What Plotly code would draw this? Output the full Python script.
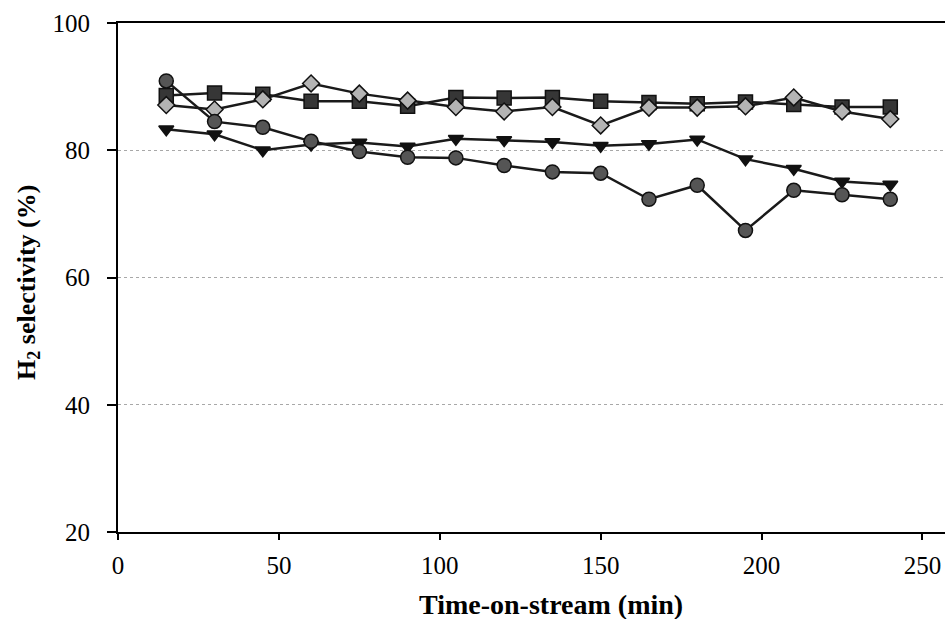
import plotly.graph_objects as go

# Time-on-stream sampling points (min)
time_min = [15, 30, 45, 60, 75, 90, 105, 120, 135, 150, 165, 180, 195, 210, 225, 240]

# H2 selectivity (%) for each catalyst run
sel_circle = [90.9, 84.5, 83.6, 81.4, 79.8, 78.9, 78.8, 77.6, 76.6, 76.4, 72.3, 74.5, 67.4, 73.7, 73.0, 72.3]
sel_square = [88.6, 89.0, 88.8, 87.7, 87.7, 86.9, 88.3, 88.2, 88.3, 87.7, 87.5, 87.3, 87.6, 87.2, 86.8, 86.8]
sel_diamond = [87.1, 86.4, 88.0, 90.5, 88.9, 87.8, 86.8, 86.1, 86.8, 83.9, 86.7, 86.7, 86.9, 88.3, 86.1, 84.9]
sel_triangle = [83.3, 82.5, 80.0, 80.9, 81.2, 80.6, 81.8, 81.6, 81.3, 80.7, 81.0, 81.7, 78.6, 77.1, 75.1, 74.6]

x_ticks = [0, 50, 100, 150, 200, 250]
y_ticks = [20, 40, 60, 80, 100]

FONT = "Liberation Serif"
LINE = "#1a1a1a"

series = [
    (sel_square, "square", "#363636", 14),
    (sel_diamond, "diamond", "#b4b4b4", 13),
    (sel_triangle, "triangle-down", "#111111", 13),
    (sel_circle, "circle", "#555555", 14),
]

fig = go.Figure()
for values, symbol, fill, size in series:
    fig.add_trace(go.Scatter(
        x=time_min, y=values, mode="lines+markers",
        line=dict(color=LINE, width=2.5),
        marker=dict(symbol=symbol, size=size, color=fill,
                    line=dict(color="#111111", width=1.5)),
        showlegend=False,
    ))

fig.update_layout(
    width=945, height=619,
    margin=dict(l=118, r=0, t=23, b=87),
    paper_bgcolor="white", plot_bgcolor="white",
    font=dict(family=FONT, size=25, color="black"),
    xaxis=dict(
        range=[0, 257], tickvals=x_ticks, ticks="outside", ticklen=6,
        tickwidth=1.5, tickcolor="black", showgrid=False, zeroline=False,
        showline=True, linecolor="black", linewidth=2, mirror=True,
        tickfont=dict(family=FONT, size=25), ticklabelstandoff=4,
    ),
    yaxis=dict(
        range=[20, 100], tickvals=y_ticks, ticks="outside", ticklen=9,
        tickwidth=1.5, tickcolor="black", showgrid=True, gridcolor="#a8a8a8",
        gridwidth=1, griddash="dot", zeroline=False,
        showline=True, linecolor="black", linewidth=2,
        tickfont=dict(family=FONT, size=25), ticklabelstandoff=12,
    ),
    annotations=[
        dict(text="<b>Time-on-stream (min)</b>", xref="paper", yref="paper",
             x=(551 - 118) / 827, y=(532 - 604) / 509,
             xanchor="center", yanchor="middle",
             showarrow=False, font=dict(family=FONT, size=28)),
        dict(text="<b>H<sub>2</sub> selectivity (%)</b>", xref="paper", yref="paper",
             x=(28 - 118) / 827, y=(532 - 283) / 509,
             xanchor="center", yanchor="middle", textangle=-90,
             showarrow=False, font=dict(family=FONT, size=26)),
    ],
)

fig.write_html("out.html")
